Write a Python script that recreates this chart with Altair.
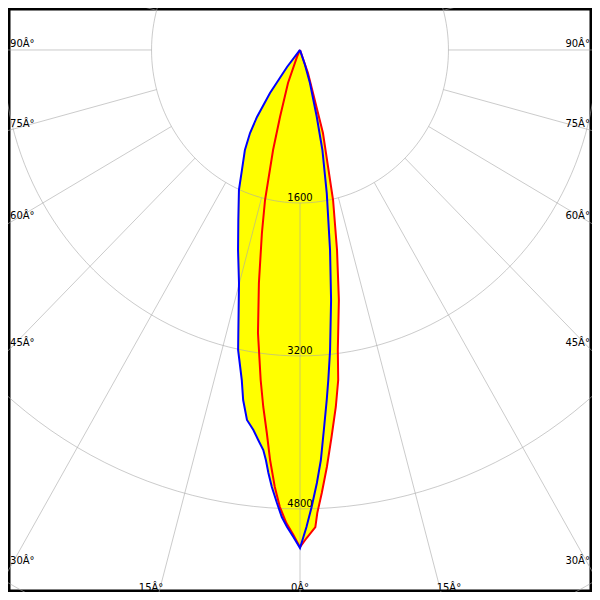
import altair as alt
import pandas as pd

# Luminous intensity (cd), per half-plane (angle in degrees from nadir)
BLUE_LEFT_ANGLES = [0, 0.8, 1.6, 2.3, 3.0, 3.8, 4.4, 4.9, 5.4, 6.3, 7.2, 8.4, 9.5, 10.3, 12.0,
                    15.1, 17.7, 20.5, 24.2, 26.5, 29.6, 31.8, 33.5, 35.7, 38.2, 40]
BLUE_LEFT_CD = [5209, 5095, 4992, 4889, 4745, 4581, 4438, 4305, 4203, 4104, 4007, 3912, 3712, 3509, 3208,
                2524, 2196, 1898, 1605, 1402, 1202, 1022, 840, 554, 226, 0]
BLUE_RIGHT_ANGLES = [0.8, 1.5, 2.3, 3.0, 3.7, 4.5, 5.05, 5.9, 7.3, 8.8, 10.9, 13.0, 14.5, 17.2, 19, 21]
BLUE_RIGHT_CD = [4990, 4782, 4533, 4295, 3983, 3672, 3465, 3155, 2636, 2117, 1526, 1074, 721, 365, 166, 0]
RED_LEFT_ANGLES = [0, 0.8, 1.7, 2.6, 3.4, 4.3, 5.1, 6.05, 7.0, 8.7, 10.3, 12.1, 13.5, 15.5, 17.1,
                   20.5, 23.8, 25]
RED_LEFT_CD = [5200, 5074, 4950, 4785, 4579, 4301, 4022, 3755, 3478, 2994, 2477, 1958, 1614, 1086, 733,
               369, 80, 0]
RED_RIGHT_ANGLES = [0.8, 1.9, 2.2, 2.9, 3.8, 4.8, 5.9, 6.8, 7.4, 9.1, 10.8, 12.8, 15.9, 17.3, 19.6, 22]
RED_RIGHT_CD = [5105, 4993, 4847, 4640, 4371, 4062, 3754, 3477, 3165, 2649, 2130, 1609, 903, 471, 256, 0]

RING_VALUES = [1600, 3200, 4800, 6400]
RING_LABELS = [1600, 3200, 4800]
SPOKE_ANGLES = list(range(-180, 181, 15))
SIDE_LABEL_ANGLES = [30, 45, 60, 75, 90]
BOTTOM_LABEL_ANGLES = [-15, 0, 15]

rows = []
for curve, side, angs, vals in [
    ("blue", -1, BLUE_LEFT_ANGLES, BLUE_LEFT_CD),
    ("blue", 1, BLUE_RIGHT_ANGLES, BLUE_RIGHT_CD),
    ("red", -1, RED_LEFT_ANGLES, RED_LEFT_CD),
    ("red", 1, RED_RIGHT_ANGLES, RED_RIGHT_CD),
]:
    for a, v in zip(angs, vals):
        rows.append({"curve": curve, "a": side * a, "cd": v})
curves_df = pd.DataFrame(rows)

ring_rows = []
for r in RING_VALUES:
    for a in range(-180, 181, 2):
        ring_rows.append({"ring": r, "a": a})
rings_df = pd.DataFrame(ring_rows)

spokes_df = pd.DataFrame({"a": SPOKE_ANGLES})
ringlab_df = pd.DataFrame({"r": RING_LABELS, "label": [str(v) for v in RING_LABELS]})

side_df = pd.DataFrame({"a": SIDE_LABEL_ANGLES, "label": [f"{a}Â°" for a in SIDE_LABEL_ANGLES]})
bottom_df = pd.DataFrame({"a": BOTTOM_LABEL_ANGLES,
                          "label": [f"{abs(a)}Â°" for a in BOTTOM_LABEL_ANGLES]})

XS = alt.Scale(domain=[-3147, 3147], nice=False, zero=False)
YS = alt.Scale(domain=[-5669, 439], nice=False, zero=False)
FONT = "DejaVu Sans"
GRID = "#a8a8a8"


def xy():
    return dict(
        x=alt.X("x:Q", scale=XS, axis=None),
        y=alt.Y("y:Q", scale=YS, axis=None),
    )


curve_base = alt.Chart(curves_df).transform_calculate(
    x="datum.cd*sin(datum.a*PI/180)",
    y="-datum.cd*cos(datum.a*PI/180)",
)

fill = curve_base.mark_line(
    fill="#ffff00", stroke="#ffff00", strokeWidth=0, interpolate="linear-closed", clip=True
).encode(**xy(), order="a:Q", detail="curve:N")

rings = alt.Chart(rings_df).transform_calculate(
    x="datum.ring*sin(datum.a*PI/180)",
    y="-datum.ring*cos(datum.a*PI/180)",
).mark_line(color=GRID, strokeWidth=1, opacity=0.6, clip=True).encode(
    **xy(), order="a:Q", detail="ring:N"
)

spokes = alt.Chart(spokes_df).transform_calculate(
    x="1600*sin(datum.a*PI/180)",
    y="-1600*cos(datum.a*PI/180)",
    x2="12000*sin(datum.a*PI/180)",
    y2="-12000*cos(datum.a*PI/180)",
).mark_rule(color=GRID, strokeWidth=1, opacity=0.6, clip=True).encode(
    **xy(), x2="x2:Q", y2="y2:Q"
)

red_line = curve_base.transform_filter("datum.curve == 'red'").mark_line(
    color="#ff0000", strokeWidth=2, clip=True
).encode(**xy(), order="a:Q")

blue_line = curve_base.transform_filter("datum.curve == 'blue'").mark_line(
    color="#0000ff", strokeWidth=2, clip=True
).encode(**xy(), order="a:Q")

ring_labels = alt.Chart(ringlab_df).transform_calculate(
    x="0", y="-datum.r"
).mark_text(font=FONT, fontSize=10, color="#000000", baseline="alphabetic", align="center", dy=-2).encode(
    **xy(), text="label:N"
)

left_labels = alt.Chart(side_df).transform_calculate(
    x="-3125",
    y="-3125*cos(datum.a*PI/180)/sin(datum.a*PI/180)",
).mark_text(font=FONT, fontSize=10, color="#000000", baseline="alphabetic", align="left", dy=-3).encode(
    **xy(), text="label:N"
)

right_labels = alt.Chart(side_df).transform_calculate(
    x="3125",
    y="-3125*cos(datum.a*PI/180)/sin(datum.a*PI/180)",
).mark_text(font=FONT, fontSize=10, color="#000000", baseline="alphabetic", align="right", dy=-3).encode(
    **xy(), text="label:N"
)

bottom_labels = alt.Chart(bottom_df).transform_calculate(
    x="-5990*sin(datum.a*PI/180)/cos(datum.a*PI/180)",
    y="-5669",
).mark_text(font=FONT, fontSize=10, color="#000000", baseline="alphabetic", align="center", dy=-1).encode(
    **xy(), text="label:N"
)

chart = alt.layer(
    fill, rings, spokes, red_line, blue_line, ring_labels, left_labels, right_labels, bottom_labels
).properties(
    width=584, height=584, padding=0, background="#ffffff",
    autosize=alt.AutoSizeParams(type="none"),
).configure_view(stroke="#000000", strokeWidth=5)

chart.save("out.html", embed_options={"renderer": "svg", "actions": False})
